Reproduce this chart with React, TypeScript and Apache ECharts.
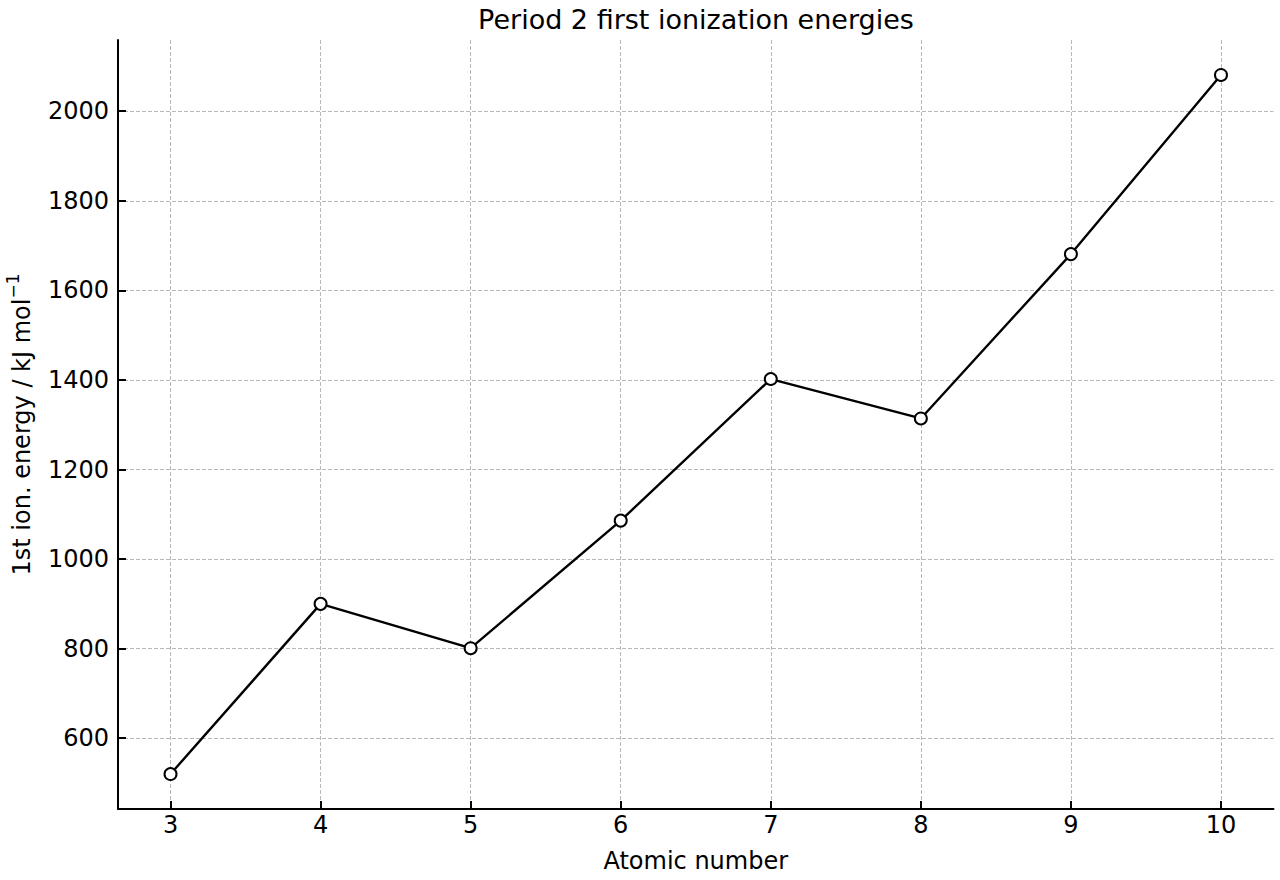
import React, { useEffect, useRef } from "react";
import * as echarts from "echarts";

const atomicNumbers = [3, 4, 5, 6, 7, 8, 9, 10];
const ionizationEnergies = [520, 900, 801, 1086, 1402, 1314, 1681, 2081];
const xTicks = [3, 4, 5, 6, 7, 8, 9, 10];
const yTicks = [600, 800, 1000, 1200, 1400, 1600, 1800, 2000];

const FONT = "DejaVu Sans";

export default function App() {
  const ref = useRef<HTMLDivElement>(null);
  useEffect(() => {
    document.body.style.margin = "0";
    const chart = echarts.init(ref.current!, null, { renderer: "svg" });
    const xMin = 3 - 0.05 * 7;
    const xMax = 10 + 0.05 * 7;
    const span = 2081 - 520;
    const yMin = 520 - 0.05 * span;
    const yMax = 2081 + 0.05 * span;
    const axisCommon = {
      axisLine: { show: true, lineStyle: { color: "#000", width: 2 } },
      axisTick: { show: true, inside: true, length: 8, lineStyle: { color: "#000", width: 2 } },
      splitLine: { show: true, lineStyle: { color: "#b8b8b8", width: 1, type: [4, 2] } },
      nameTextStyle: { fontFamily: FONT, fontSize: 24, color: "#000" },
    };
    chart.setOption({
      animation: false,
      backgroundColor: "#fff",
      graphic: [
        {
          type: "text",
          x: 696,
          y: 19,
          style: {
            text: "Period 2 first ionization energies",
            font: `27px "${FONT}"`,
            fill: "#000",
            textAlign: "center",
            textVerticalAlign: "middle",
          },
        },
      ],
      grid: {
        left: 118,
        right: 6.5,
        top: 40,
        bottom: 71,
        containLabel: false,
        outerBoundsMode: "none",
      },
      xAxis: {
        type: "value",
        min: xMin,
        max: xMax,
        name: "Atomic number",
        nameLocation: "middle",
        nameGap: 40,
        ...axisCommon,
        axisTick: { ...axisCommon.axisTick, customValues: xTicks },
        axisLabel: {
          customValues: xTicks,
          formatter: (v: number) => String(v),
          fontFamily: FONT,
          fontSize: 24,
          color: "#000",
          margin: 4,
        },
      },
      yAxis: {
        type: "value",
        min: yMin,
        max: yMax,
        name: "{a|1st ion. energy / kJ mol}{b|\u22121}",
        nameLocation: "middle",
        nameRotate: 90,
        nameGap: 84,
        ...axisCommon,
        nameTextStyle: {
          fontFamily: FONT,
          fontSize: 24,
          color: "#000",
          rich: {
            a: { fontFamily: FONT, fontSize: 24, color: "#000", lineHeight: 30, verticalAlign: "bottom" },
            b: { fontFamily: FONT, fontSize: 17, color: "#000", lineHeight: 17, verticalAlign: "top" },
          },
        },
        axisTick: { ...axisCommon.axisTick, customValues: yTicks },
        axisLabel: {
          customValues: yTicks,
          formatter: (v: number) => String(v),
          fontFamily: FONT,
          fontSize: 24,
          color: "#000",
          margin: 9,
        },
      },
      series: [
        {
          type: "line",
          data: atomicNumbers.map((z, i) => [z, ionizationEnergies[i]]),
          symbol: "circle",
          symbolSize: 12,
          lineStyle: { color: "#000", width: 2.4 },
          itemStyle: { color: "#fff", borderColor: "#000", borderWidth: 2 },
          z: 3,
        },
      ],
    });
    return () => chart.dispose();
  }, []);
  return <div ref={ref} style={{ width: 1280, height: 880 }} />;
}
